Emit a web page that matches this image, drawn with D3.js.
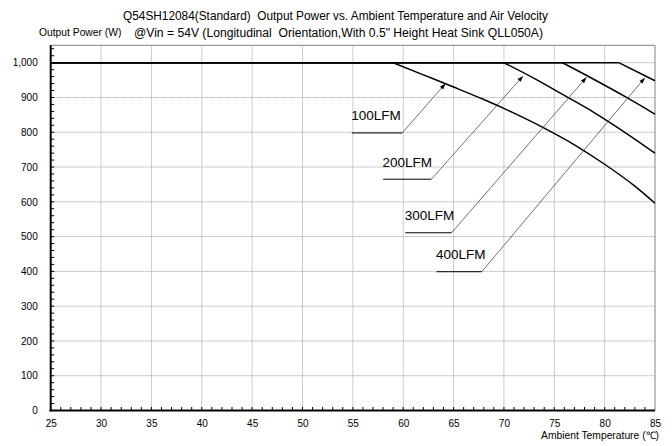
<!DOCTYPE html>
<html>
<head>
<meta charset="utf-8">
<script src="https://cdn.jsdelivr.net/npm/d3@7"></script>
<style>
  html, body { margin: 0; padding: 0; background: #fff; }
  svg { display: block; font-family: "Liberation Sans", Arial, sans-serif; }
  text { white-space: pre; }
</style>
</head>
<body>
<svg id="chart" width="672" height="446"></svg>
<script>
// ---------- data ----------
const titleLine1 = "Q54SH12084(Standard)  Output Power vs. Ambient Temperature and Air Velocity";
const titleLine2 = "@Vin = 54V (Longitudinal  Orientation,With 0.5\" Height Heat Sink QLL050A)";
const yAxisTitle = "Output Power (W)";
const xAxisTitle = "Ambient Temperature (\u2103)";

const xTicks = [25, 30, 35, 40, 45, 50, 55, 60, 65, 70, 75, 80, 85];
const yTicks = [0, 100, 200, 300, 400, 500, 600, 700, 800, 900, 1000];

const seriesNames = ["100LFM", "200LFM", "300LFM", "400LFM"];

const temps100 = [25, 59, 62, 65, 68, 71, 74, 77, 80, 83, 85];
const power100 = [1000, 1000, 965, 930, 894, 855, 812, 764, 708, 645, 596];

const temps200 = [25, 70, 73, 76, 79, 82, 85];
const power200 = [1000, 1000, 955, 906, 856, 800, 740];

const temps300 = [25, 75.8, 79, 82, 85];
const power300 = [1000, 1000, 951, 903, 852];

const temps400 = [25, 81.4, 85];
const power400 = [1000, 1000, 948];

// annotation: underline start/end temperature, underline power level, arrow tip
const labelStartT = [54.9, 58.0, 60.2, 63.3];
const labelEndT   = [59.9, 62.8, 64.8, 67.8];
const labelP      = [798, 665, 511, 399];
const arrowTipT   = [64.2, 71.9, 78.2, 84.0];
const arrowTipP   = [940, 962, 958, 957];

// ---------- drawing ----------
const svg = d3.select("#chart");
const x = d3.scaleLinear().domain([25, 85]).range([50.7, 655]);
const y = d3.scaleLinear().domain([0, 1050]).range([410.5, 45.3]);

const defs = svg.append("defs");
defs.append("marker")
  .attr("id", "arrow")
  .attr("viewBox", "0 0 10 10")
  .attr("refX", 10).attr("refY", 5)
  .attr("markerWidth", 7).attr("markerHeight", 6)
  .attr("markerUnits", "userSpaceOnUse")
  .attr("orient", "auto")
  .append("path").attr("d", "M0,1.5 L10,5 L0,8.5 Z").attr("fill", "#000");

// gridlines
const grid = svg.append("g");
grid.selectAll("line.v").data(xTicks.filter(t => t > 25 && t < 85)).enter()
  .append("line")
  .attr("x1", d => x(d)).attr("x2", d => x(d))
  .attr("y1", y(0)).attr("y2", y(1050))
  .attr("stroke", "#999").attr("stroke-width", 1)
  .attr("stroke-dasharray", "1,1");
grid.selectAll("line.h").data(yTicks.filter(t => t > 0)).enter()
  .append("line")
  .attr("x1", x(25)).attr("x2", x(85))
  .attr("y1", d => y(d)).attr("y2", d => y(d))
  .attr("stroke", "#999").attr("stroke-width", 1)
  .attr("stroke-dasharray", "1,1");

// frame top & right
svg.append("path")
  .attr("d", `M${x(25)},${y(1050)} H${x(85)} V${y(0)}`)
  .attr("fill", "none").attr("stroke", "#808080").attr("stroke-width", 1);

// minor ticks
const yMinor = d3.range(20, 1050, 20);
svg.append("g").selectAll("line").data(yMinor).enter().append("line")
  .attr("x1", x(25)).attr("x2", x(25) + 3.5)
  .attr("y1", d => y(d)).attr("y2", d => y(d))
  .attr("stroke", "#000").attr("stroke-width", 1);
const xMinor = d3.range(26, 85, 1);
svg.append("g").selectAll("line").data(xMinor).enter().append("line")
  .attr("x1", d => x(d)).attr("x2", d => x(d))
  .attr("y1", y(0)).attr("y2", y(0) - 3.5)
  .attr("stroke", "#000").attr("stroke-width", 1);

// axes (left and bottom), using d3 axes for labels
const yAxis = d3.axisLeft(y).tickValues(yTicks).tickSize(0).tickPadding(13)
  .tickFormat(d3.format(","));
const gy = svg.append("g").attr("transform", `translate(${x(25)},0)`).call(yAxis);
gy.select(".domain").remove();
gy.selectAll("text").attr("font-size", "10px").attr("font-family", "Liberation Sans, Arial, sans-serif").attr("fill", "#000");

const xAxis = d3.axisBottom(x).tickValues(xTicks).tickSize(0).tickPadding(9);
const gx = svg.append("g").attr("transform", `translate(0,${y(0)})`).call(xAxis);
gx.select(".domain").remove();
gx.selectAll("text").attr("font-size", "10px").attr("font-family", "Liberation Sans, Arial, sans-serif").attr("fill", "#000");

svg.append("line").attr("x1", x(25)).attr("x2", x(25)).attr("y1", y(1050)).attr("y2", y(0) + 1)
  .attr("stroke", "#000").attr("stroke-width", 2);
svg.append("line").attr("x1", x(25) - 1).attr("x2", x(85)).attr("y1", y(0)).attr("y2", y(0))
  .attr("stroke", "#000").attr("stroke-width", 2);

// curves
const series = [
  { t: temps100, p: power100 },
  { t: temps200, p: power200 },
  { t: temps300, p: power300 },
  { t: temps400, p: power400 }
];
const lineFlat = d3.line().x(d => x(d[0])).y(d => y(d[1]));
const lineCurve = d3.line().x(d => x(d[0])).y(d => y(d[1])).curve(d3.curveMonotoneX);
series.forEach(s => {
  const pts = s.t.map((t, i) => [t, s.p[i]]);
  svg.append("path").attr("d", lineFlat(pts.slice(0, 2)))
    .attr("fill", "none").attr("stroke", "#000").attr("stroke-width", 1.5);
  svg.append("path").attr("d", lineCurve(pts.slice(1)))
    .attr("fill", "none").attr("stroke", "#000").attr("stroke-width", 1.5);
});

// annotations
seriesNames.forEach((name, i) => {
  const ux1 = x(labelStartT[i]), ux2 = x(labelEndT[i]), uy = y(labelP[i]);
  svg.append("line").attr("x1", ux1).attr("x2", ux2).attr("y1", uy).attr("y2", uy)
    .attr("stroke", "#000").attr("stroke-width", 1);
  svg.append("line").attr("x1", ux2).attr("y1", uy)
    .attr("x2", x(arrowTipT[i])).attr("y2", y(arrowTipP[i]))
    .attr("stroke", "#333").attr("stroke-width", 0.7)
    .attr("marker-end", "url(#arrow)");
  svg.append("text").attr("x", ux1 - 0.5).attr("y", uy - 12.5)
    .attr("font-size", "13.5px").attr("fill", "#000").text(name);
});

// titles
svg.append("text").attr("x", 335.5).attr("y", 20).attr("text-anchor", "middle")
  .attr("font-size", "12px").attr("fill", "#000")
  .attr("textLength", 425).attr("lengthAdjust", "spacingAndGlyphs").text(titleLine1);
svg.append("text").attr("x", 338.5).attr("y", 36.5).attr("text-anchor", "middle")
  .attr("font-size", "12px").attr("fill", "#000")
  .attr("textLength", 409).attr("lengthAdjust", "spacingAndGlyphs").text(titleLine2);
svg.append("text").attr("x", 39).attr("y", 36).attr("font-size", "10.3px")
  .attr("fill", "#000").text(yAxisTitle);
svg.append("text").attr("x", 659).attr("y", 439).attr("text-anchor", "end")
  .attr("font-size", "10.3px").attr("fill", "#000").text(xAxisTitle);
</script>
</body>
</html>
